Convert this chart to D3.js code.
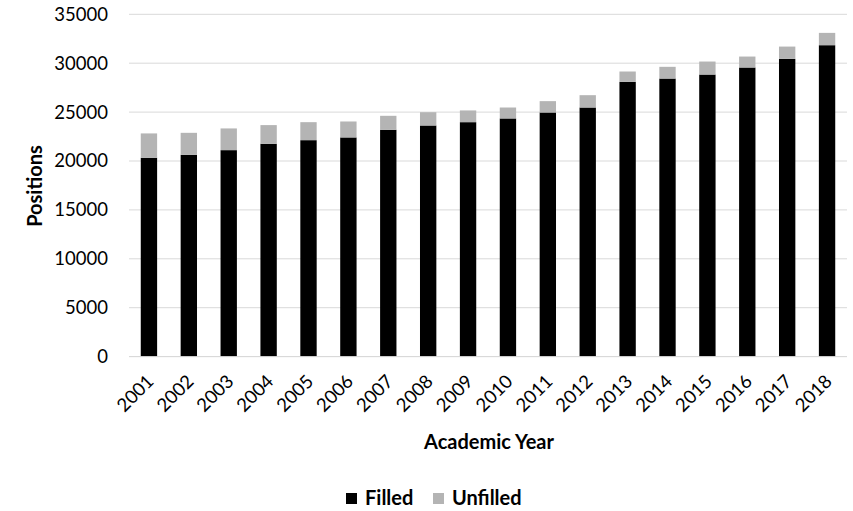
<!DOCTYPE html>
<html><head><meta charset="utf-8">
<script src="https://cdn.jsdelivr.net/npm/d3@7"></script>
<style>body{margin:0;background:#fff}svg{display:block}text{font-family:Lato,"Open Sans",sans-serif;fill:#000}</style>
</head><body><svg id="c" width="853" height="511"></svg>
<script>
const years = ["2001","2002","2003","2004","2005","2006","2007","2008","2009","2010","2011","2012","2013","2014","2015","2016","2017","2018"];
const filled = [20330,20630,21110,21760,22130,22410,23190,23630,23970,24350,24960,25470,28090,28430,28840,29560,30440,31840];
const unfilled = [2490,2250,2220,1910,1840,1630,1430,1360,1200,1120,1160,1260,1060,1200,1330,1120,1260,1260];
const yTicks = [0,5000,10000,15000,20000,25000,30000,35000];
const seriesNames = ["Filled","Unfilled"];
const colors = ["#000000","#b4b4b4"];

const svg = d3.select("#c");
const L = 129, R = 847, T = 14.3, B = 356.6;
const x = d3.scaleBand().domain(years).range([L, R]).paddingInner(0.59).paddingOuter(0.295);
const y = d3.scaleLinear().domain([0, 35000]).range([B, T]);

// gridlines
svg.append("g").selectAll("line").data(yTicks).join("line")
  .attr("x1", L).attr("x2", R).attr("y1", d => y(d)).attr("y2", d => y(d))
  .attr("stroke", "#d9d9d9").attr("stroke-width", 1);

// y axis labels
const yAxis = d3.axisLeft(y).tickValues(yTicks).tickSize(0).tickPadding(21).tickFormat(d3.format("d"));
const ya = svg.append("g").attr("transform", `translate(${L},0)`).call(yAxis);
ya.select(".domain").remove();
ya.selectAll("text").attr("font-size", 18.5).attr("font-family", "Lato, sans-serif").attr("fill", "#000");

// stacked bars
const table = years.map((yr, i) => ({year: yr, Filled: filled[i], Unfilled: unfilled[i]}));
const stack = d3.stack().keys(seriesNames)(table);
svg.append("g").selectAll("g").data(stack).join("g").attr("fill", (d, i) => colors[i])
  .selectAll("rect").data(d => d).join("rect")
  .attr("x", d => x(d.data.year)).attr("width", x.bandwidth())
  .attr("y", d => y(d[1])).attr("height", d => y(d[0]) - y(d[1]));

// baseline
svg.append("line").attr("x1", L).attr("x2", R).attr("y1", y(0)).attr("y2", y(0)).attr("stroke", "#d9d9d9");

// x labels
const xAxis = d3.axisBottom(x).tickSize(0).tickPadding(0);
const xa = svg.append("g").attr("transform", `translate(0,${B})`).call(xAxis);
xa.select(".domain").remove();
xa.selectAll("text").attr("font-size", 18.5).attr("font-family", "Lato, sans-serif").attr("fill", "#000")
  .attr("text-anchor", "end").attr("dy", null).attr("y", 0)
  .attr("transform", "translate(6,26) rotate(-45)");

// axis titles
svg.append("text").attr("x", 489).attr("y", 449).attr("text-anchor", "middle")
  .attr("font-size", 20).attr("font-weight", "bold").text("Academic Year");
svg.append("text").attr("transform", "translate(42,186) rotate(-90)").attr("text-anchor", "middle")
  .attr("font-size", 20).attr("font-weight", "bold").text("Positions");

// legend
const leg = svg.append("g");
const legX = [346, 433];
seriesNames.forEach((n, i) => {
  leg.append("rect").attr("x", legX[i]).attr("y", 493).attr("width", 11).attr("height", 11).attr("fill", colors[i]);
  leg.append("text").attr("x", legX[i] + 19).attr("y", 505).attr("font-size", 20).attr("font-weight", "bold").text(n);
});
</script></body></html>
